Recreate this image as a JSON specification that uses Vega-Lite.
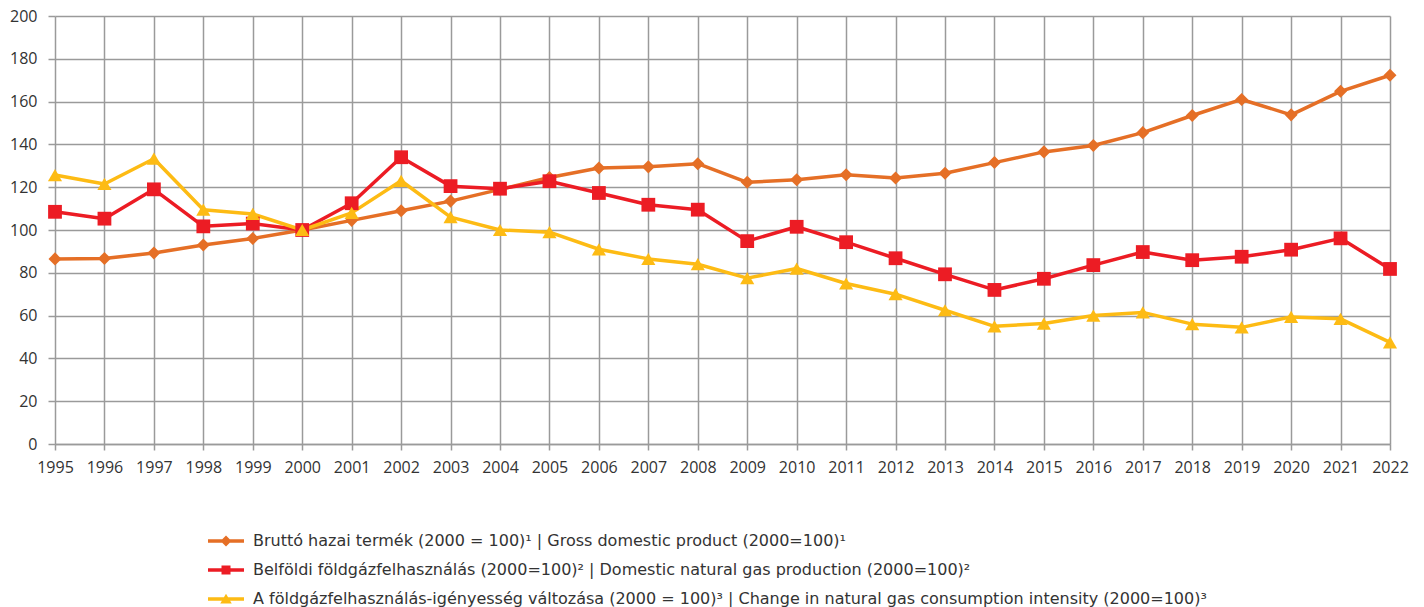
{
  "$schema": "https://vega.github.io/schema/vega-lite/v6.json",
  "width": 1335,
  "height": 428,
  "autosize": {"type": "none"},
  "padding": {"left": 55, "top": 16, "right": 34, "bottom": 163},
  "background": "white",
  "config": {
    "view": {"stroke": null},
    "axis": {
      "labelFont": "Open Sans",
      "labelFontSize": 16,
      "labelColor": "#333333",
      "gridColor": "#9a9a9a",
      "gridWidth": 1.5,
      "domainColor": "#9a9a9a",
      "domainWidth": 1.5,
      "tickColor": "#9a9a9a",
      "tickWidth": 1.5,
      "title": null
    }
  },
  "datasets": {
    "series": [
      {"year": 1995, "s": "gdp", "v": 86.5}, {"year": 1996, "s": "gdp", "v": 86.7}, {"year": 1997, "s": "gdp", "v": 89.3},
      {"year": 1998, "s": "gdp", "v": 93.0}, {"year": 1999, "s": "gdp", "v": 96.0}, {"year": 2000, "s": "gdp", "v": 100.0},
      {"year": 2001, "s": "gdp", "v": 104.5}, {"year": 2002, "s": "gdp", "v": 109.0}, {"year": 2003, "s": "gdp", "v": 113.5},
      {"year": 2004, "s": "gdp", "v": 119.0}, {"year": 2005, "s": "gdp", "v": 124.5}, {"year": 2006, "s": "gdp", "v": 129.0},
      {"year": 2007, "s": "gdp", "v": 129.5}, {"year": 2008, "s": "gdp", "v": 131.0}, {"year": 2009, "s": "gdp", "v": 122.3},
      {"year": 2010, "s": "gdp", "v": 123.5}, {"year": 2011, "s": "gdp", "v": 125.8}, {"year": 2012, "s": "gdp", "v": 124.3},
      {"year": 2013, "s": "gdp", "v": 126.5}, {"year": 2014, "s": "gdp", "v": 131.5}, {"year": 2015, "s": "gdp", "v": 136.5},
      {"year": 2016, "s": "gdp", "v": 139.5}, {"year": 2017, "s": "gdp", "v": 145.5}, {"year": 2018, "s": "gdp", "v": 153.5},
      {"year": 2019, "s": "gdp", "v": 161.0}, {"year": 2020, "s": "gdp", "v": 153.8}, {"year": 2021, "s": "gdp", "v": 164.8},
      {"year": 2022, "s": "gdp", "v": 172.3},
      {"year": 1995, "s": "gas", "v": 108.5}, {"year": 1996, "s": "gas", "v": 105.3}, {"year": 1997, "s": "gas", "v": 119.0},
      {"year": 1998, "s": "gas", "v": 101.7}, {"year": 1999, "s": "gas", "v": 103.0}, {"year": 2000, "s": "gas", "v": 100.0},
      {"year": 2001, "s": "gas", "v": 112.5}, {"year": 2002, "s": "gas", "v": 134.0}, {"year": 2003, "s": "gas", "v": 120.5},
      {"year": 2004, "s": "gas", "v": 119.3}, {"year": 2005, "s": "gas", "v": 122.8}, {"year": 2006, "s": "gas", "v": 117.3},
      {"year": 2007, "s": "gas", "v": 111.8}, {"year": 2008, "s": "gas", "v": 109.5}, {"year": 2009, "s": "gas", "v": 94.8},
      {"year": 2010, "s": "gas", "v": 101.5}, {"year": 2011, "s": "gas", "v": 94.3}, {"year": 2012, "s": "gas", "v": 86.8},
      {"year": 2013, "s": "gas", "v": 79.3}, {"year": 2014, "s": "gas", "v": 72.0}, {"year": 2015, "s": "gas", "v": 77.2},
      {"year": 2016, "s": "gas", "v": 83.6}, {"year": 2017, "s": "gas", "v": 89.7}, {"year": 2018, "s": "gas", "v": 85.9},
      {"year": 2019, "s": "gas", "v": 87.5}, {"year": 2020, "s": "gas", "v": 90.8}, {"year": 2021, "s": "gas", "v": 96.1},
      {"year": 2022, "s": "gas", "v": 81.8},
      {"year": 1995, "s": "int", "v": 125.7}, {"year": 1996, "s": "int", "v": 121.5}, {"year": 1997, "s": "int", "v": 133.3},
      {"year": 1998, "s": "int", "v": 109.5}, {"year": 1999, "s": "int", "v": 107.5}, {"year": 2000, "s": "int", "v": 100.0},
      {"year": 2001, "s": "int", "v": 108.0}, {"year": 2002, "s": "int", "v": 123.0}, {"year": 2003, "s": "int", "v": 106.0},
      {"year": 2004, "s": "int", "v": 100.0}, {"year": 2005, "s": "int", "v": 99.0}, {"year": 2006, "s": "int", "v": 91.0},
      {"year": 2007, "s": "int", "v": 86.5}, {"year": 2008, "s": "int", "v": 84.0}, {"year": 2009, "s": "int", "v": 77.5},
      {"year": 2010, "s": "int", "v": 82.0}, {"year": 2011, "s": "int", "v": 75.0}, {"year": 2012, "s": "int", "v": 70.0},
      {"year": 2013, "s": "int", "v": 62.5}, {"year": 2014, "s": "int", "v": 55.0}, {"year": 2015, "s": "int", "v": 56.3},
      {"year": 2016, "s": "int", "v": 60.0}, {"year": 2017, "s": "int", "v": 61.5}, {"year": 2018, "s": "int", "v": 56.0},
      {"year": 2019, "s": "int", "v": 54.5}, {"year": 2020, "s": "int", "v": 59.4}, {"year": 2021, "s": "int", "v": 58.5},
      {"year": 2022, "s": "int", "v": 47.5}
    ]
  },
  "data": {"name": "series"},
  "encoding": {
    "x": {
      "field": "year", "type": "quantitative",
      "scale": {"domain": [1995, 2022], "nice": false, "zero": false},
      "axis": {
        "values": [1995,1996,1997,1998,1999,2000,2001,2002,2003,2004,2005,2006,2007,2008,2009,2010,2011,2012,2013,2014,2015,2016,2017,2018,2019,2020,2021,2022],
        "format": "d", "tickSize": 6, "labelPadding": 9, "labelFlush": false, "labelOverlap": false
      }
    },
    "y": {
      "field": "v", "type": "quantitative",
      "scale": {"domain": [0, 200], "nice": false},
      "axis": {
        "values": [0,20,40,60,80,100,120,140,160,180,200],
        "tickSize": 7, "labelPadding": 11, "domain": false, "labelFlush": false
      }
    },
    "color": {
      "field": "s", "type": "nominal",
      "scale": {"domain": ["gdp", "gas", "int"], "range": ["#E56F26", "#EC1C24", "#FDBB14"]}
    }
  },
  "layer": [
    {
      "mark": {"type": "line", "strokeWidth": 3.5, "strokeJoin": "round"},
      "encoding": {
        "detail": {"field": "s"},
        "color": {
          "field": "s", "type": "nominal",
          "scale": {"domain": ["gdp", "gas", "int"], "range": ["#E56F26", "#EC1C24", "#FDBB14"]},
          "legend": {
            "orient": "none",
            "legendX": 163,
            "legendY": 517,
            "direction": "vertical",
            "title": null,
            "padding": 0,
            "symbolSize": 100,
            "labelOffset": 19,
            "rowPadding": 13,
            "labelFont": "DejaVu Sans",
            "labelFontSize": 16,
            "labelColor": "#333333",
            "labelLimit": 0,
            "labelExpr": "datum.value == 'gdp' ? 'Bruttó hazai termék (2000 = 100)¹ | Gross domestic product (2000=100)¹' : datum.value == 'gas' ? 'Belföldi földgázfelhasználás (2000=100)² | Domestic natural gas production (2000=100)²' : 'A földgázfelhasználás-igényesség változása (2000 = 100)³ | Change in natural gas consumption intensity (2000=100)³'",
            "encode": {
              "symbols": {
                "update": {
                  "shape": {"signal": "datum.value == 'gdp' ? 'M-3.6,-0.35L3.6,-0.35L3.6,0.35L-3.6,0.35Z M0,-1.1L1.1,0L0,1.1L-1.1,0Z' : datum.value == 'gas' ? 'M-3.6,-0.35L3.6,-0.35L3.6,0.35L-3.6,0.35Z M-0.9,-0.9L0.9,-0.9L0.9,0.9L-0.9,0.9Z' : 'M-3.6,-0.35L3.6,-0.35L3.6,0.35L-3.6,0.35Z M0,-1.05L1.15,0.9L-1.15,0.9Z'"},
                  "fill": {"scale": "color", "field": "value"},
                  "stroke": {"value": "transparent"},
                  "strokeWidth": {"value": 0},
                  "opacity": {"value": 1}
                }
              }
            }
          }
        }
      }
    },
    {
      "transform": [{"filter": "datum.s == 'gdp'"}],
      "mark": {"type": "point", "filled": true, "opacity": 1, "size": 170, "shape": "diamond"}
    },
    {
      "transform": [{"filter": "datum.s == 'gas'"}],
      "mark": {"type": "point", "filled": true, "opacity": 1, "size": 190, "shape": "square"}
    },
    {
      "transform": [{"filter": "datum.s == 'int'"}],
      "mark": {"type": "point", "filled": true, "opacity": 1, "size": 200, "shape": "triangle-up"}
    }
  ]
}
